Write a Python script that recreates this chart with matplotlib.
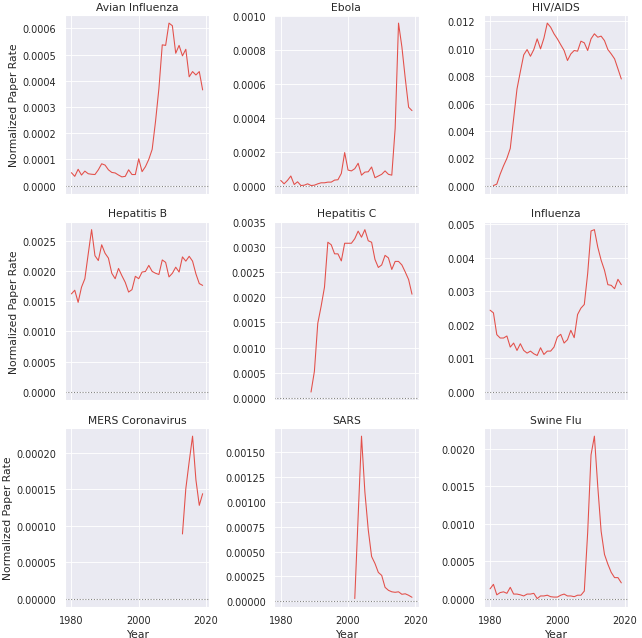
import numpy as np
import matplotlib
matplotlib.use("Agg")
import matplotlib.pyplot as plt
from matplotlib.ticker import MultipleLocator
import seaborn as sns

sns.set_theme(style="darkgrid")

years_all = list(range(1980, 2020))

avian = [0.49, 0.35, 0.62, 0.40, 0.55, 0.45, 0.43, 0.42, 0.60, 0.83,
         0.78, 0.60, 0.50, 0.48, 0.40, 0.33, 0.35, 0.60, 0.42, 0.42,
         1.02, 0.53, 0.72, 1.00, 1.38, 2.45, 3.70, 5.37, 5.35, 6.20,
         6.10, 5.05, 5.35, 4.95, 5.20, 4.15, 4.35, 4.22, 4.35, 3.65]
avian = [v * 1e-4 for v in avian]

ebola = [0.34, 0.14, 0.34, 0.60, 0.10, 0.26, 0.04, 0.06, 0.14, 0.04,
         0.06, 0.14, 0.20, 0.20, 0.24, 0.24, 0.36, 0.38, 0.75, 1.98,
         0.95, 0.90, 1.03, 1.35, 0.65, 0.83, 0.85, 1.13, 0.50, 0.60,
         0.70, 0.90, 0.70, 0.65, 3.40, 9.60, 8.20, 6.35, 4.65, 4.45]
ebola = [v * 1e-4 for v in ebola]

hiv_years = list(range(1981, 2020))
hiv = [0.02, 0.12, 0.85, 1.46, 2.00, 2.73, 4.90, 7.07, 8.34, 9.56,
       9.95, 9.46, 9.95, 10.73, 10.00, 10.78, 11.88, 11.58, 11.10, 10.73,
       10.30, 9.88, 9.15, 9.63, 9.88, 9.83, 10.56, 10.44, 9.88, 10.73,
       11.10, 10.85, 10.93, 10.60, 9.95, 9.63, 9.27, 8.54, 7.80]
hiv = [v * 1e-3 for v in hiv]

hepb = [1.62, 1.68, 1.48, 1.73, 1.87, 2.28, 2.68, 2.25, 2.17, 2.43,
        2.29, 2.21, 1.96, 1.87, 2.04, 1.92, 1.81, 1.65, 1.69, 1.91,
        1.87, 1.98, 1.99, 2.09, 1.99, 1.96, 1.94, 2.18, 2.14, 1.90,
        1.96, 2.06, 1.98, 2.23, 2.16, 2.24, 2.16, 1.95, 1.79, 1.76]
hepb = [v * 1e-3 for v in hepb]

hepc_years = list(range(1989, 2020))
hepc = [0.12, 0.53, 1.48, 1.82, 2.20, 3.09, 3.04, 2.86, 2.86, 2.72,
        3.07, 3.07, 3.07, 3.16, 3.31, 3.19, 3.34, 3.12, 3.09, 2.75,
        2.59, 2.64, 2.83, 2.78, 2.55, 2.71, 2.71, 2.64, 2.50, 2.35, 2.06]
hepc = [v * 1e-3 for v in hepc]

flu = [2.44, 2.36, 1.71, 1.61, 1.61, 1.67, 1.34, 1.46, 1.24, 1.44,
       1.24, 1.16, 1.22, 1.14, 1.09, 1.32, 1.12, 1.22, 1.22, 1.34,
       1.64, 1.72, 1.46, 1.56, 1.84, 1.62, 2.31, 2.50, 2.61, 3.53,
       4.80, 4.84, 4.32, 3.93, 3.63, 3.20, 3.18, 3.08, 3.36, 3.20]
flu = [v * 1e-3 for v in flu]

mers_years = list(range(2013, 2020))
mers = [8.87, 15.1, 18.8, 22.3, 16.3, 12.8, 14.4]
mers = [v * 1e-5 for v in mers]

sars_years = list(range(2002, 2020))
sars = [0.027, 0.85, 1.66, 1.10, 0.72, 0.45, 0.38, 0.29, 0.26, 0.14,
        0.11, 0.095, 0.09, 0.095, 0.07, 0.075, 0.06, 0.04]
sars = [v * 1e-3 for v in sars]

swine = [0.13, 0.19, 0.05, 0.08, 0.09, 0.07, 0.15, 0.06, 0.06, 0.05,
         0.035, 0.06, 0.06, 0.07, 0.0, 0.035, 0.035, 0.045, 0.025, 0.02,
         0.02, 0.045, 0.06, 0.035, 0.035, 0.025, 0.045, 0.045, 0.10, 0.88,
         1.92, 2.17, 1.50, 0.90, 0.59, 0.46, 0.35, 0.28, 0.28, 0.21]
swine = [v * 1e-3 for v in swine]

titles = ["Avian Influenza", "Ebola", "HIV/AIDS",
          "Hepatitis B", "Hepatitis C", "Influenza",
          "MERS Coronavirus", "SARS", "Swine Flu"]
series = [(years_all, avian), (years_all, ebola), (hiv_years, hiv),
          (years_all, hepb), (hepc_years, hepc), (years_all, flu),
          (mers_years, mers), (sars_years, sars), (years_all, swine)]

fig, axes = plt.subplots(3, 3, figsize=(10, 9.953), dpi=64.2, sharex=True)
fig.subplots_adjust(left=0.101, right=0.978, top=0.975, bottom=0.049,
                    wspace=0.45, hspace=0.156)

for i, ax in enumerate(axes.flat):
    x, y = series[i]
    ax.plot(x, y, color="#e3504a", linewidth=1.2)
    ax.axhline(0, color="grey", linestyle=":", linewidth=1.2)
    ax.set_title(titles[i])
    if i % 3 == 0:
        ax.set_ylabel("Normalized Paper Rate")
    if i >= 6:
        ax.set_xlabel("Year")

axes[2, 0].set_xticks([1980, 2000, 2020])
# SARS panel uses quarter steps in the original
axes[2, 1].yaxis.set_major_locator(MultipleLocator(0.00025))

fig.savefig("out.png")
